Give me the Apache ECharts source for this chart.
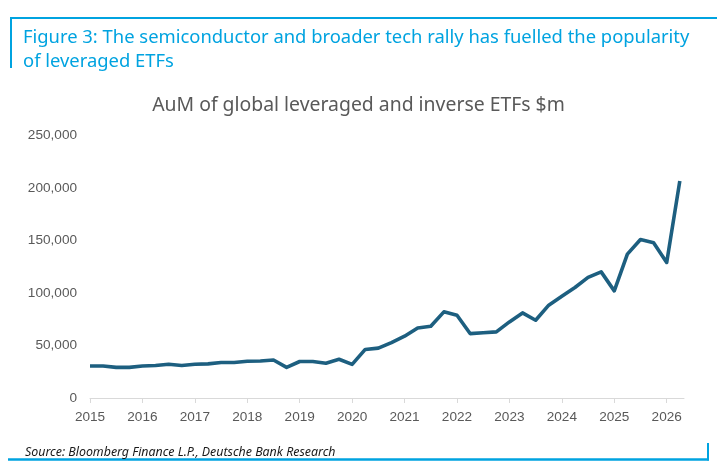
<!DOCTYPE html>
<html lang="en">
  <head>
    <meta charset="UTF-8" />
    <title>AuM of global leveraged and inverse ETFs</title>
    <script src="https://cdn.jsdelivr.net/npm/echarts@6/dist/echarts.min.js"></script>
    <style>
      html, body { margin: 0; padding: 0; background: #fff; }
      #chart { width: 717px; height: 475px; }
    </style>
  </head>
  <body>
    <div id="chart"></div>
    <script>
      const quarters = [
        "2015Q1", "2015Q2", "2015Q3", "2015Q4",
        "2016Q1", "2016Q2", "2016Q3", "2016Q4",
        "2017Q1", "2017Q2", "2017Q3", "2017Q4",
        "2018Q1", "2018Q2", "2018Q3", "2018Q4",
        "2019Q1", "2019Q2", "2019Q3", "2019Q4",
        "2020Q1", "2020Q2", "2020Q3", "2020Q4",
        "2021Q1", "2021Q2", "2021Q3", "2021Q4",
        "2022Q1", "2022Q2", "2022Q3", "2022Q4",
        "2023Q1", "2023Q2", "2023Q3", "2023Q4",
        "2024Q1", "2024Q2", "2024Q3", "2024Q4",
        "2025Q1", "2025Q2", "2025Q3", "2025Q4",
        "2026Q1", "2026Q2"
      ];
      const aum = [
        30500, 30500, 29200, 29200,
        30500, 31000, 32200, 31000,
        32200, 32500, 33800, 33800,
        35000, 35200, 36200, 29200,
        34800, 34800, 33200, 36900,
        32000, 46300, 47500, 52800,
        58900, 66800, 68400, 82100,
        78900, 61400, 62200, 63000,
        72500, 81100, 74100, 88500,
        97000, 105300, 114900, 120200,
        102100, 137100, 151100, 147900,
        129200, 206800
      ];
      const yTicks = [0, 50000, 100000, 150000, 200000, 250000];

      const figTitle = "Figure 3: The semiconductor and broader tech rally has fuelled the popularity\nof leveraged ETFs";
      const chartTitle = "AuM of global leveraged and inverse ETFs $m";
      const source = "Source: Bloomberg Finance L.P., Deutsche Bank Research";

      const dbBlue = "#00a3e0";

      // "2015Q3" -> 2015.5
      function toYear(q) {
        return Number(q.slice(0, 4)) + (Number(q.slice(5)) - 1) / 4;
      }
      const points = quarters.map((q, i) => [toYear(q), aum[i]]);

      const chart = echarts.init(document.getElementById("chart"), null, { renderer: "canvas" });

      chart.setOption({
        animation: false,
        backgroundColor: "#fff",
        title: [
          {
            text: figTitle,
            left: 18,
            top: 21,
            textStyle: {
              color: dbBlue,
              fontSize: 18.4,
              fontWeight: "normal",
              lineHeight: 24,
              fontFamily: "Noto Sans"
            }
          },
          {
            text: chartTitle,
            left: "center",
            top: 91,
            textStyle: {
              color: "#595959",
              fontSize: 19.4,
              fontWeight: "normal",
              fontFamily: "Noto Sans"
            }
          },
          {
            text: source,
            left: 20,
            top: 441,
            textStyle: {
              color: "#1a1a1a",
              fontSize: 12.4,
              fontStyle: "italic",
              fontWeight: "normal",
              fontFamily: "Noto Sans"
            }
          }
        ],
        graphic: [
          // frame: top rule + left stub, bottom rule + right stub
          { type: "line", shape: { x1: 11, y1: 18, x2: 717, y2: 18 }, style: { stroke: dbBlue, lineWidth: 2 } },
          { type: "line", shape: { x1: 11, y1: 17, x2: 11, y2: 68 }, style: { stroke: dbBlue, lineWidth: 2 } },
          { type: "line", shape: { x1: 8, y1: 459.5, x2: 709, y2: 459.5 }, style: { stroke: dbBlue, lineWidth: 2.5 } },
          { type: "line", shape: { x1: 708, y1: 443, x2: 708, y2: 460.5 }, style: { stroke: dbBlue, lineWidth: 2 } }
        ],
        grid: { left: 90, right: 33, top: 135.7, bottom: 77, containLabel: false },
        xAxis: {
          type: "value",
          min: 2015,
          max: 2026.33,
          interval: 1,
          axisLine: { show: true, lineStyle: { color: "#d9d9d9", width: 1 } },
          axisTick: { show: true, length: 5, lineStyle: { color: "#d9d9d9" } },
          splitLine: { show: false },
          axisLabel: {
            color: "#595959",
            fontSize: 13.6,
            margin: 12,
            fontFamily: "Liberation Sans",
            showMaxLabel: false,
            formatter: v => (Number.isInteger(v) ? String(v) : "")
          }
        },
        yAxis: {
          type: "value",
          min: yTicks[0],
          max: yTicks[yTicks.length - 1],
          interval: yTicks[1] - yTicks[0],
          axisLine: { show: false },
          axisTick: { show: false },
          splitLine: { show: false },
          axisLabel: {
            color: "#595959",
            fontSize: 13.6,
            margin: 13,
            fontFamily: "Liberation Sans",
            formatter: v => v.toLocaleString("en-US")
          }
        },
        series: [
          {
            type: "line",
            data: points,
            symbol: "none",
            lineStyle: { color: "#1d5f80", width: 3.6, join: "round" }
          }
        ]
      });
    </script>
  </body>
</html>
